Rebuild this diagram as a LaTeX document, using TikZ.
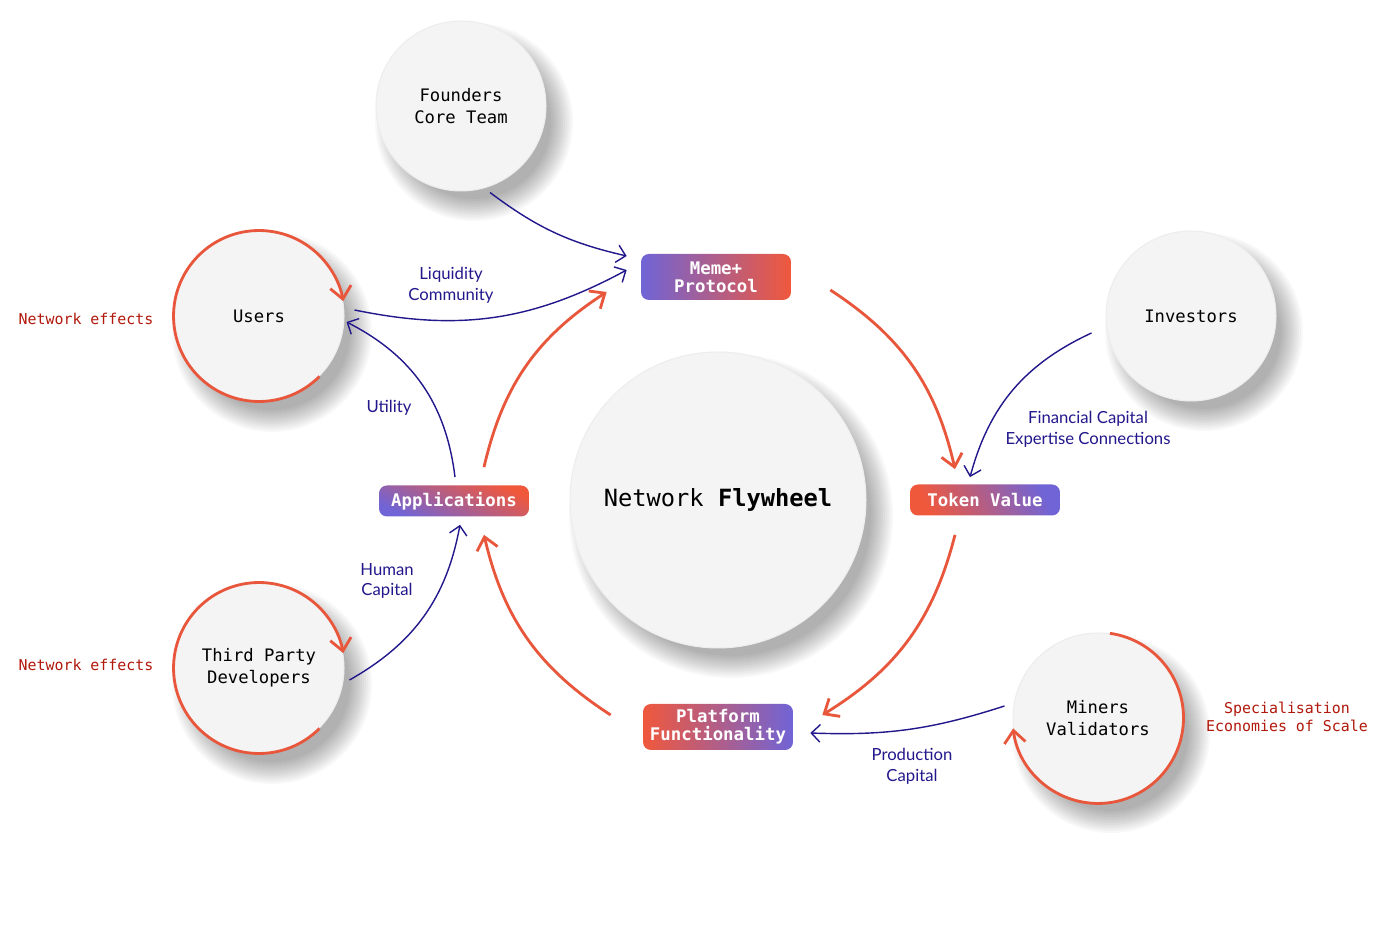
\documentclass[tikz,border=0pt]{standalone}
\usepackage{fontspec}
\setmainfont{Lato}
\setmonofont{DejaVu Sans Mono}
\usepackage{tikz}
\usetikzlibrary{arrows.meta, calc, backgrounds}
\usepackage{xcolor}

\definecolor{flyred}{RGB}{232,86,60}
\definecolor{navy}{RGB}{34,24,140}
\definecolor{notered}{RGB}{178,24,12}
\definecolor{purp}{RGB}{112,100,214}
\definecolor{orng}{RGB}{240,88,60}
\definecolor{disc}{RGB}{244,244,244}

\begin{document}
\begin{tikzpicture}[
    x=0.02cm, y=0.02cm,
    actor/.style={circle, fill=disc, draw=black!7, line width=0.6pt, minimum size=3.4cm, inner sep=0pt, align=center,
                  font=\ttfamily\fontsize{9.8}{12.5}\selectfont},
    hub/.style={actor, minimum size=5.92cm, font=\ttfamily\fontsize{13.5}{16}\selectfont},
    stage/.style={rectangle, rounded corners=4.5pt, minimum width=3cm, minimum height=0.62cm, inner sep=0pt,
                  align=center, text=white, font=\ttfamily\bfseries\fontsize{9.9}{10.2}\selectfont},
    flow/.style={-{Straight Barb[length=7pt, width=12pt]}, line width=1.6pt, draw=flyred},
    feed/.style={-{Straight Barb[length=5pt, width=10pt]}, line width=0.8pt, draw=navy},
    lbl/.style={text=navy, align=center, font=\fontsize{9.5}{11.9}\selectfont},
    fx/.style={text=notered, align=center, font=\ttfamily\fontsize{8.5}{10.2}\selectfont}
]
\useasboundingbox (0,0) rectangle (1400,939);

% actors round the wheel
\node[actor] (founders) at (461,833) {Founders\\Core Team};
\node[actor] (users) at (259,623) {Users};
\node[actor] (devs) at (259,271) {Third Party\\Developers};
\node[actor] (investors) at (1191,623) {Investors};
\node[actor] (miners) at (1098,221) {Miners\\Validators};
\node[hub] (fly) at (718,439) {Network \textbf{Flywheel}};

% soft shadows behind the discs
\begin{scope}[on background layer]
\fill[white] (0,0) rectangle (1400,939);
\foreach \n/\r in {founders/85, users/86, devs/86, investors/85, miners/85, fly/148}
  \foreach \k in {0,...,11}
    \fill[black, opacity=0.028] ($(\n)+(13,-16)$) circle[radius={(\r-8+2*\k)*0.02cm}];
\end{scope}

% self-reinforcing loops
\draw[flow] (users.-45) arc[start angle=-45, end angle=-350, radius=1.71cm];
\draw[flow] (devs.-45) arc[start angle=-45, end angle=-350, radius=1.71cm];
\draw[flow] (miners.82) arc[start angle=82, end angle=-173, radius=1.71cm];

% stages
\node[stage, minimum height=0.92cm, left color=purp, right color=orng] (meme) at (716,662) {Meme+\\Protocol};
\node[stage, top color=orng, bottom color=purp, shading angle=-25] (apps) at (454,438) {Applications};
\node[stage, top color=purp, bottom color=orng, shading angle=-65] (token) at (985,439) {Token Value};
\node[stage, minimum height=0.92cm, left color=orng, right color=purp] (platform) at (718,212) {Platform\\Functionality};

% the wheel
\draw[flow] ($(meme.east)+(39,-13)$) to[bend left=22] ($(token.north)+(-30,15)$);
\draw[flow] ($(token.south)+(-30,-19)$) to[bend left=22] ($(platform.east)+(29,12)$);
\draw[flow] ($(platform.west)+(-32,12)$) to[bend left=22] ($(apps.south)+(30,-18)$);
\draw[flow] ($(apps.north)+(30,18)$) to[bend left=22] ($(meme.west)+(-34,-15)$);

% inputs
\draw[feed] ($(founders.south)+(29,-1)$) to[bend right=12] ($(meme.west)+(-14,21)$);
\draw[feed] ($(users.east)+(10,6)$) to[bend right=20] ($(meme.west)+(-14,7)$);
\draw[feed] ($(apps.north)+(1,8)$) to[bend right=28] ($(users.east)+(2,-6)$);
\draw[feed] ($(devs.east)+(5,-12)$) to[bend right=25] ($(apps.south)+(6,-8)$);
\draw[feed] ($(investors.west)+(-14,-17)$) to[bend right=25] ($(token.north)+(-15,7)$);
\draw[feed] ($(miners.west)+(-8,12)$) to[bend left=10] ($(platform.east)+(17,-6)$);

\node[lbl] (liq) at (451,654) {Liquidity\\Community};
\node[lbl] (util) at (389,531) {Utility};
\node[lbl] (human) at (387,358) {Human\\Capital};
\node[lbl] (fin) at (1088,510) {Financial Capital\\Expertise Connections};
\node[lbl] (prod) at (912,173) {Production\\Capital};

\node[fx] (effA) at (86,620) {Network effects};
\node[fx] (effB) at (86,274) {Network effects};
\node[fx] (spec) at (1287,222) {Specialisation\\Economies of Scale};
\end{tikzpicture}
\end{document}
